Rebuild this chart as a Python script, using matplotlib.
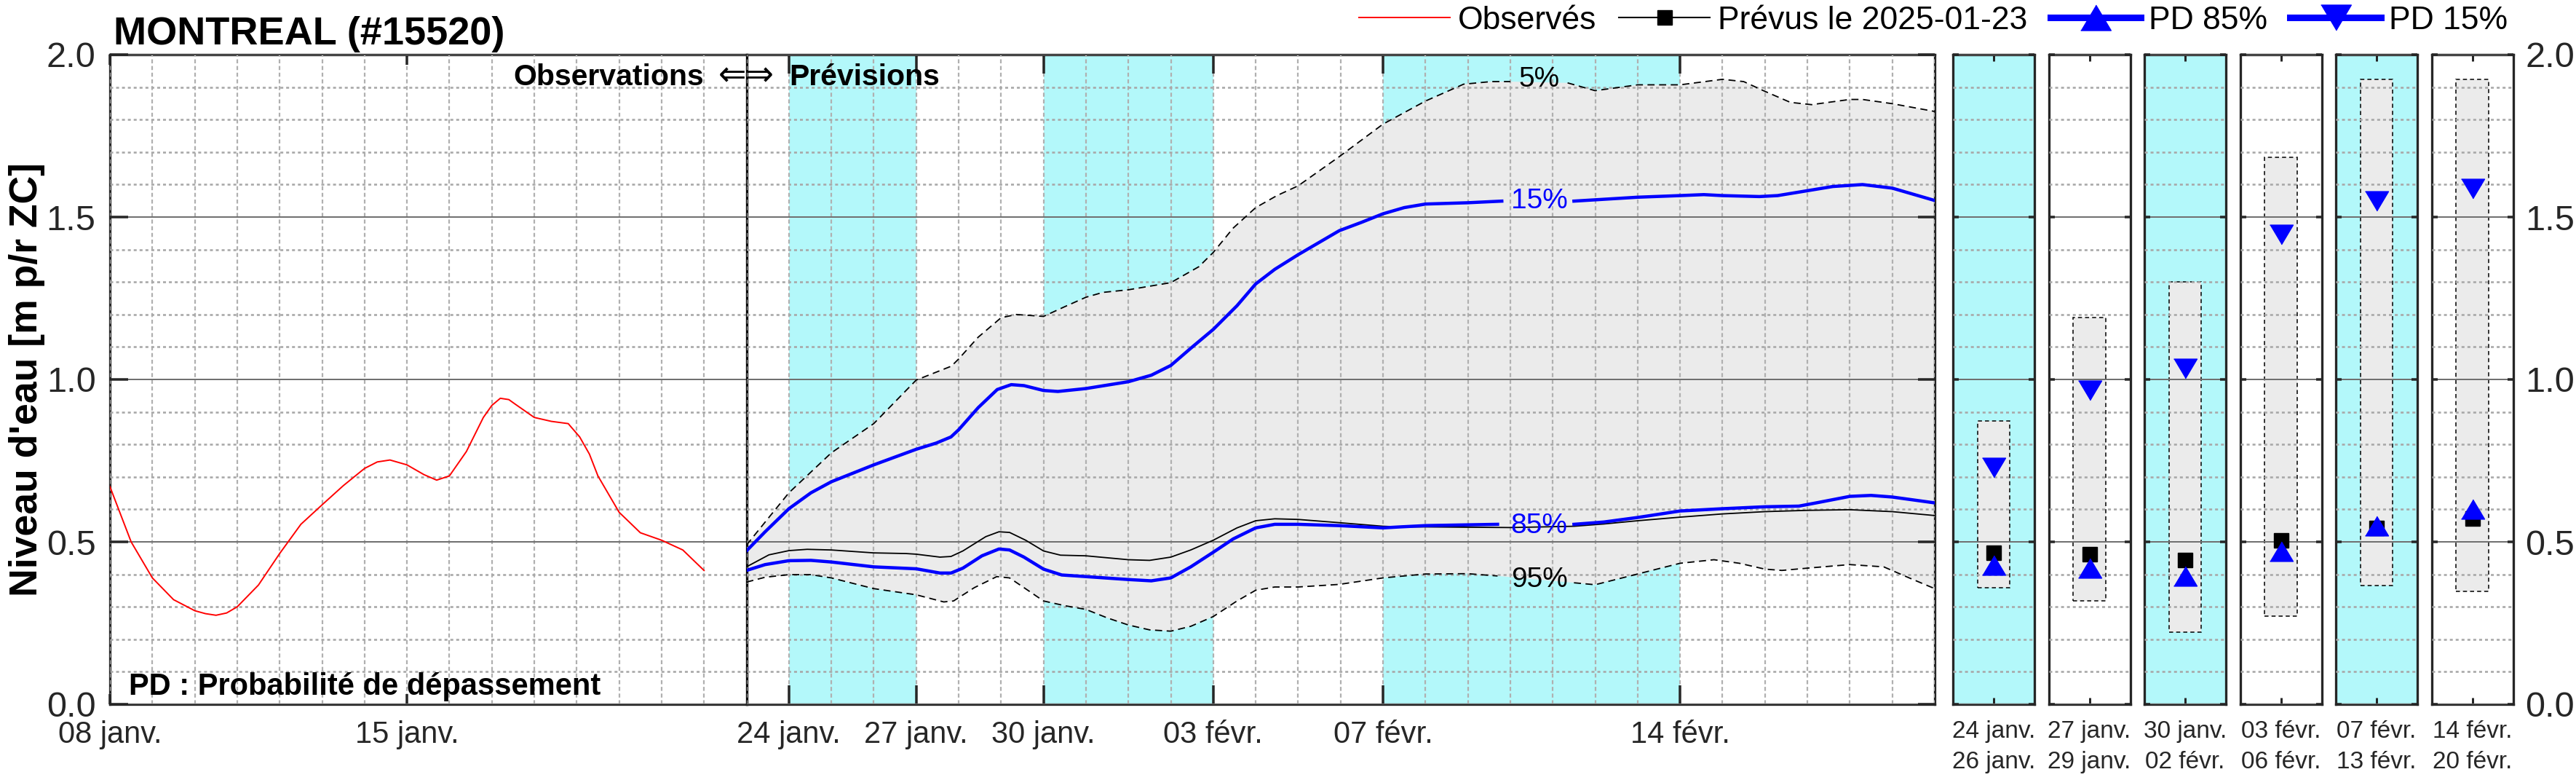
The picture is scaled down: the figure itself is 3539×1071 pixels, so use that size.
import numpy as np
import matplotlib
matplotlib.use("Agg")
import matplotlib.pyplot as plt
import matplotlib.dates as mdates
from matplotlib.lines import Line2D
from matplotlib.ticker import MultipleLocator

plt.rcParams['font.family'] = ['Liberation Sans', 'DejaVu Sans']
plt.rcParams['lines.scale_dashes'] = False

# ---- donnees : jours depuis le 2025-01-08 00h, niveau en m p/r ZC
obs_day = [0, 0.25, 0.5, 1, 1.5, 2, 2.25, 2.5, 2.75, 3, 3.5, 4, 4.5, 5, 5.5, 6, 6.3, 6.6, 7,
           7.4, 7.7, 8, 8.4, 8.8, 9.0, 9.2, 9.4, 9.55, 10, 10.4, 10.8, 11.07, 11.3, 11.5, 12,
           12.5, 13, 13.5, 14]
obs_val = [0.670, 0.585, 0.50, 0.389, 0.322, 0.288, 0.279, 0.274, 0.281, 0.30, 0.367, 0.464,
           0.554, 0.614, 0.673, 0.726, 0.746, 0.752, 0.737, 0.707, 0.690, 0.703, 0.778,
           0.883, 0.920, 0.942, 0.938, 0.924, 0.883, 0.871, 0.864, 0.823, 0.770, 0.703,
           0.591, 0.528, 0.505, 0.475, 0.412]

q05_day = [15.0, 16, 17, 18, 19, 19.83, 20, 20.46, 21, 21.36, 22, 22.5, 23, 23.4, 24, 24.5,
           25, 25.66, 26, 26.47, 27, 27.5, 28, 28.97, 30, 31, 31.9, 32.55, 33, 34.35, 35,
           35.5, 36, 37, 38, 38.5, 39, 39.6, 40.1, 41, 41.3, 42, 43]
q05_val = [0.49, 0.651, 0.774, 0.864, 0.998, 1.041, 1.063, 1.13, 1.19, 1.20, 1.194, 1.224,
           1.253, 1.268, 1.276, 1.287, 1.298, 1.347, 1.391, 1.466, 1.529, 1.566, 1.596,
           1.686, 1.786, 1.857, 1.909, 1.917, 1.917, 1.913, 1.889, 1.898, 1.907, 1.907,
           1.924, 1.917, 1.887, 1.853, 1.846, 1.862, 1.862, 1.849, 1.825]

q15_day = [15.0, 15.44, 16, 16.52, 17, 18, 19, 19.47, 19.82, 20, 20.46, 20.91, 21.24, 21.54,
           22, 22.34, 23, 24, 24.54, 25, 25.47, 26, 26.56, 27, 27.45, 28, 28.97, 29.5, 30,
           30.5, 31, 32, 32.8, 34.5, 36, 37, 37.56, 38, 38.87, 39.3, 40, 40.6, 41.3, 42, 43]
q15_val = [0.472, 0.531, 0.602, 0.651, 0.685, 0.737, 0.785, 0.804, 0.823, 0.845, 0.913,
           0.969, 0.984, 0.981, 0.966, 0.963, 0.972, 0.993, 1.013, 1.043, 1.096, 1.154,
           1.227, 1.294, 1.339, 1.384, 1.458, 1.484, 1.510, 1.529, 1.540, 1.544, 1.549,
           1.549, 1.561, 1.566, 1.569, 1.566, 1.563, 1.566, 1.581, 1.594, 1.600, 1.589, 1.551]

q85_day = [15.0, 15.44, 16, 16.52, 17, 18, 19, 19.56, 19.82, 20.1, 20.55, 20.95, 21.2, 21.54,
           22, 22.43, 23, 24, 24.54, 25, 25.47, 26, 26.47, 27, 27.45, 28, 28.97, 30, 30.4,
           31, 32.7, 34.5, 35.2, 36, 37, 38, 39, 39.8, 40.25, 41, 41.5, 42, 43]
q85_val = [0.412, 0.43, 0.442, 0.443, 0.438, 0.423, 0.417, 0.404, 0.404, 0.419, 0.457,
           0.478, 0.475, 0.453, 0.416, 0.398, 0.393, 0.384, 0.380, 0.389, 0.423, 0.468,
           0.509, 0.543, 0.554, 0.554, 0.550, 0.543, 0.546, 0.550, 0.554, 0.554, 0.561,
           0.575, 0.595, 0.602, 0.608, 0.610, 0.621, 0.640, 0.643, 0.638, 0.620]

prev_day = [15.0, 15.53, 16, 16.43, 17, 18, 18.76, 19, 19.56, 19.82, 20.1, 20.64, 20.95,
            21.2, 21.58, 22, 22.4, 23, 24, 24.5, 25, 25.47, 26, 26.56, 27, 27.45, 28, 28.97,
            30, 30.4, 31, 33, 34.5, 35.2, 36, 37, 38, 39, 40, 41, 42, 43]
prev_val = [0.423, 0.46, 0.473, 0.477, 0.475, 0.466, 0.464, 0.462, 0.453, 0.455, 0.472,
            0.516, 0.531, 0.529, 0.505, 0.472, 0.459, 0.457, 0.445, 0.443, 0.453, 0.475,
            0.505, 0.543, 0.565, 0.571, 0.569, 0.559, 0.548, 0.546, 0.546, 0.544, 0.548,
            0.555, 0.565, 0.576, 0.586, 0.593, 0.597, 0.599, 0.593, 0.581]

q95_day = [15.0, 15.44, 16, 16.52, 17, 18, 19, 19.65, 19.88, 20.37, 20.9, 21.2, 21.54, 22,
           22.52, 23, 23.5, 24, 24.5, 25, 25.47, 26, 26.56, 27, 27.45, 28, 28.97, 30, 31, 32,
           32.7, 34.5, 35, 36, 37, 37.8, 38.4, 39, 39.4, 40, 41, 41.8, 42.4, 43]
q95_val = [0.376, 0.391, 0.399, 0.399, 0.389, 0.356, 0.337, 0.315, 0.318, 0.359, 0.393,
           0.389, 0.359, 0.318, 0.303, 0.292, 0.266, 0.244, 0.229, 0.225, 0.24, 0.270,
           0.318, 0.351, 0.361, 0.361, 0.369, 0.389, 0.401, 0.402, 0.395, 0.374, 0.368,
           0.401, 0.434, 0.445, 0.434, 0.416, 0.412, 0.419, 0.430, 0.423, 0.389, 0.356]

# etiquettes des courbes : (texte, couleur, jour, niveau, debut trou, fin trou)
curve_labels = {
    'q05': ('5%', 'black', 33.68, 1.924, 33.0, 34.35),
    'q15': ('15%', 'blue', 33.68, 1.549, 32.8, 34.5),
    'q85': ('85%', 'blue', 33.68, 0.549, 32.7, 34.5),
    'q95': ('95%', 'black', 33.68, 0.384, 32.7, 34.5),
}

obs_ticks = ['2025-01-08', '2025-01-15']
obs_ticklabels = ['08 janv.', '15 janv.']
fc_ticks = ['2025-01-24', '2025-01-27', '2025-01-30', '2025-02-03', '2025-02-07', '2025-02-14']
fc_ticklabels = ['24 janv.', '27 janv.', '30 janv.', '03 févr.', '07 févr.', '14 févr.']
bands = [('2025-01-24', '2025-01-27'), ('2025-01-30', '2025-02-03'), ('2025-02-07', '2025-02-14')]

# fenetres de synthese a droite
win_labels = [('24 janv.', '26 janv.'), ('27 janv.', '29 janv.'), ('30 janv.', '02 févr.'),
              ('03 févr.', '06 févr.'), ('07 févr.', '13 févr.'), ('14 févr.', '20 févr.')]
win_cyan = [True, False, True, False, True, False]
win_top = [0.873, 1.19, 1.30, 1.683, 1.923, 1.924]
win_bot = [0.358, 0.318, 0.223, 0.272, 0.366, 0.347]
win_pd15 = [0.728, 0.966, 1.034, 1.447, 1.550, 1.588]
win_prev = [0.466, 0.463, 0.444, 0.504, 0.543, 0.572]
win_pd85 = [0.429, 0.419, 0.394, 0.470, 0.549, 0.601]

yticks = [0, 0.5, 1.0, 1.5, 2.0]
yticklabels = ['0.0', '0.5', '1.0', '1.5', '2.0']

CYAN = '#b3f8fa'
FILL = '#ebebeb'
FRAME = '#262626'
W, H = 3539, 1071
PX = 0.72  # points par pixel a 100 dpi

base = mdates.date2num(np.datetime64('2025-01-08'))


def dnum(s):
    return mdates.date2num(np.datetime64(s))


def xs(days):
    return base + np.asarray(days, dtype=float)


def fx(px):
    return px / W


def fy(py):
    return 1 - py / H


up_marker = [(-1, -0.84), (1, -0.84), (0, 0.84)]
down_marker = [(-1, 0.84), (1, 0.84), (0, -0.84)]

fig = plt.figure(figsize=(W / 100, H / 100), dpi=100)

AX_TOP, AX_BOT = 75, 967
ax_b = 1 - AX_BOT / H
ax_h = (AX_BOT - AX_TOP) / H
x0_px, day_px = 151, 58.3
div_px = x0_px + 15 * day_px
end_px = x0_px + 43 * day_px

ax_obs = fig.add_axes([fx(x0_px), ax_b, fx(div_px - x0_px), ax_h])
ax_fc = fig.add_axes([fx(div_px), ax_b, fx(end_px - div_px), ax_h])


def style_main(ax, xlo, xhi, ticks, labels, xtick_len):
    ax.set_xlim(xlo, xhi)
    ax.set_ylim(0, 2)
    ax.set_axisbelow(False)
    ax.set_xticks([dnum(t) for t in ticks])
    ax.set_xticklabels(labels, fontsize=30)
    ax.xaxis.set_minor_locator(MultipleLocator(1))
    ax.set_yticks(yticks)
    ax.yaxis.set_minor_locator(MultipleLocator(0.1))
    ax.tick_params(axis='x', which='major', direction='in', top=True, bottom=True,
                   length=xtick_len * PX, width=3.5 * PX, color=FRAME, pad=16, labelcolor='#262626')
    ax.tick_params(which='minor', length=0)
    ax.grid(which='both', axis='x', color='#b0b0b0', lw=2.2 * PX, ls=(0, (4.0, 2.6)))
    ax.grid(which='minor', axis='y', color='#a8a8a8', lw=2.6 * PX, ls=(0, (2.9, 2.9)))
    ax.grid(which='major', axis='y', color='#707070', lw=2.0 * PX, ls='-')
    for s in ax.spines.values():
        s.set_color(FRAME)
        s.set_linewidth(3.3 * PX)


style_main(ax_obs, base, base + 15, obs_ticks, obs_ticklabels, 14)
style_main(ax_fc, base + 15, base + 43, fc_ticks, fc_ticklabels, 26)

ax_obs.spines['right'].set_visible(False)
ax_obs.tick_params(axis='y', which='major', direction='in', left=True, right=False,
                   length=25 * PX, width=3.5 * PX, color=FRAME, labelsize=35, pad=14,
                   labelcolor='#262626')
ax_obs.set_yticklabels(yticklabels)
ax_fc.spines['left'].set_color('black')
ax_fc.tick_params(axis='y', which='major', direction='in', left=False, right=True,
                  labelleft=False, length=23 * PX, width=3.5 * PX, color=FRAME)

# observations
ax_obs.plot(xs(obs_day), obs_val, color='red', lw=1.4, zorder=4)

# previsions
for a, b in bands:
    ax_fc.axvspan(dnum(a), dnum(b), color=CYAN, lw=0, zorder=1)
ax_fc.fill(np.r_[xs(q05_day), xs(q95_day)[::-1]], np.r_[q05_val, q95_val[::-1]],
           color=FILL, lw=0, zorder=1.2)

ax_fc.plot(xs(prev_day), prev_val, color='black', lw=1.3, zorder=4)

dash = (0, (7.0, 4.5))
curves = {
    'q05': (q05_day, q05_val, dict(color='black', lw=1.3, ls=dash)),
    'q95': (q95_day, q95_val, dict(color='black', lw=1.3, ls=dash)),
    'q85': (q85_day, q85_val, dict(color='blue', lw=3.2)),
    'q15': (q15_day, q15_val, dict(color='blue', lw=3.2)),
}
for key, (d, v, kw) in curves.items():
    d = np.asarray(d)
    v = np.asarray(v)
    txt, col, lday, lval, g0, g1 = curve_labels[key]
    left = d <= g0
    right = d >= g1
    ax_fc.plot(xs(d[left]), v[left], zorder=5, solid_joinstyle='round', **kw)
    ax_fc.plot(xs(d[right]), v[right], zorder=5, solid_joinstyle='round', **kw)
    ax_fc.text(base + lday, lval, txt, color=col, fontsize=28, ha='center', va='center', zorder=6)

# annotations
ax_obs.text(base + 14.0, 1.906, 'Observations', fontsize=29.5, weight='bold', ha='right',
            va='baseline', zorder=7)
ax_fc.text(base + 15.0, 1.906, '⇐⇒', fontsize=33, family=['DejaVu Sans'], ha='center',
           va='baseline', zorder=7)
ax_fc.text(base + 16.0, 1.906, 'Prévisions', fontsize=29.5, weight='bold', ha='left',
           va='baseline', zorder=7)
ax_obs.text(base + 0.45, 0.029, 'PD : Probabilité de dépassement', fontsize=30,
            weight='bold', ha='left', va='baseline', zorder=7)

# fenetres de synthese
for i in range(len(win_labels)):
    left_px = 2683 + i * 131.5
    ax = fig.add_axes([fx(left_px), ax_b, fx(112), ax_h])
    ax.set_xlim(0, 1)
    ax.set_ylim(0, 2)
    ax.set_axisbelow(False)
    if win_cyan[i]:
        ax.set_facecolor(CYAN)
    ax.bar(0.5, win_top[i] - win_bot[i], bottom=win_bot[i], width=0.4, color=FILL,
           edgecolor='black', lw=1.1, ls=(0, (4, 3)), zorder=1.5)
    ax.plot(0.5, win_prev[i], ls='none', marker='s', color='black', ms=15, zorder=4)
    ax.plot(0.5, win_pd85[i], ls='none', marker=up_marker, color='blue', ms=23, zorder=5)
    ax.plot(0.5, win_pd15[i], ls='none', marker=down_marker, color='blue', ms=23, zorder=5)
    ax.set_xticks([0.5])
    ax.set_xticklabels([win_labels[i][0] + '\n' + win_labels[i][1]], fontsize=24,
                       linespacing=1.45)
    ax.set_yticks(yticks)
    ax.yaxis.set_minor_locator(MultipleLocator(0.1))
    ax.grid(which='minor', axis='y', color='#a8a8a8', lw=2.6 * PX, ls=(0, (2.9, 2.9)))
    ax.grid(which='major', axis='y', color='#707070', lw=2.0 * PX, ls='-')
    ax.tick_params(which='minor', length=0)
    ax.tick_params(axis='x', direction='in', top=True, bottom=True, length=9 * PX,
                   width=3 * PX, color=FRAME, pad=16, labelcolor='#262626')
    ax.tick_params(axis='y', direction='in', left=True, right=True, length=8 * PX,
                   width=3.5 * PX, color=FRAME, labelleft=False)
    if i == len(win_labels) - 1:
        ax.tick_params(axis='y', labelright=True, labelsize=35, pad=12, labelcolor='#262626')
        ax.set_yticklabels(yticklabels)
    for s in ax.spines.values():
        s.set_color(FRAME)
        s.set_linewidth(3.3 * PX)

# titre, axe y, legende
fig.text(fx(156), fy(61), 'MONTREAL (#15520)', fontsize=39, weight='bold',
         ha='left', va='baseline')
fig.text(fx(37), fy((AX_TOP + AX_BOT) / 2), "Niveau d'eau [m p/r ZC]", fontsize=38.5,
         weight='bold', rotation=90, ha='center', va='center')

handles = [
    Line2D([], [], color='red', lw=1.4),
    Line2D([], [], color='black', lw=1.5, marker='s', ms=14),
    Line2D([], [], color='blue', lw=6.5, marker=up_marker, ms=30),
    Line2D([], [], color='blue', lw=6.5, marker=down_marker, ms=30),
]
fig.legend(handles, ['Observés', 'Prévus le 2025-01-23', 'PD 85%', 'PD 15%'],
           loc='center right', bbox_to_anchor=(fx(3445), fy(28)), ncol=4, frameon=False,
           fontsize=32, handlelength=2.8, handletextpad=0.25, columnspacing=0.7,
           borderpad=0, borderaxespad=0, numpoints=1)

fig.savefig('out.png', dpi=100)
